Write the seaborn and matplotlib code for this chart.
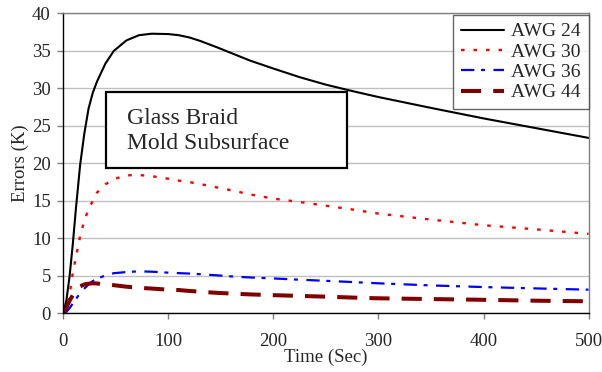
import matplotlib
matplotlib.use("Agg")
import matplotlib.pyplot as plt
from matplotlib.patches import Rectangle
import seaborn as sns
import pandas as pd

# Sample times (s)
time_s = [0, 3, 6, 9, 12, 16, 20, 24, 28, 32, 40, 48, 60, 72, 84, 100,
          110, 120, 130, 146, 162, 178, 200, 225, 250, 275, 300, 350, 400, 450, 500]

# Temperature errors (K) per thermocouple wire gauge
awg24 = [0, 1.8, 5.0, 9.2, 14.0, 19.8, 24.0, 27.3, 29.4, 30.9, 33.3, 35.0, 36.4,
         37.1, 37.3, 37.25, 37.1, 36.8, 36.35, 35.5, 34.6, 33.7, 32.65, 31.5,
         30.5, 29.65, 28.85, 27.4, 26.0, 24.7, 23.4]
awg30 = [0, 1.0, 2.5, 5.4, 7.5, 10.3, 12.4, 13.9, 15.0, 16.1, 17.2, 17.9, 18.4,
         18.45, 18.3, 17.95, 17.7, 17.5, 17.25, 16.8, 16.35, 15.85, 15.3, 14.85,
         14.35, 13.85, 13.3, 12.5, 11.75, 11.2, 10.6]
awg36 = [0, 0.2, 0.7, 1.3, 1.9, 2.7, 3.3, 3.85, 4.3, 4.6, 5.05, 5.35, 5.5,
         5.6, 5.55, 5.42, 5.36, 5.3, 5.22, 5.07, 4.9, 4.78, 4.65, 4.48,
         4.33, 4.17, 4.0, 3.72, 3.5, 3.32, 3.15]
awg44 = [0, 0.8, 1.7, 2.4, 3.0, 3.6, 3.85, 3.95, 4.0, 3.98, 3.85, 3.75, 3.55,
         3.4, 3.3, 3.15, 3.1, 2.98, 2.88, 2.73, 2.62, 2.52, 2.42, 2.32,
         2.22, 2.1, 2.0, 1.9, 1.8, 1.68, 1.6]

series_names = ["AWG 24", "AWG 30", "AWG 36", "AWG 44"]
x_ticks = [0, 100, 200, 300, 400, 500]
y_ticks = [0, 5, 10, 15, 20, 25, 30, 35, 40]

df = pd.DataFrame({
    "Time": time_s * 4,
    "Error": awg24 + awg30 + awg36 + awg44,
    "Gauge": [n for n in series_names for _ in time_s],
})

styles = {
    "AWG 24": dict(color="black", lw=1.5, ls="-"),
    "AWG 30": dict(color="#ff0000", lw=1.7, ls=(0, (1.5, 3.8))),
    "AWG 36": dict(color="#0000ff", lw=1.6, ls=(0, (6.0, 3.0, 1.8, 3.8))),
    "AWG 44": dict(color="#800000", lw=2.9, ls=(0, (5.0, 3.0))),
}

sns.set_style("white")
plt.rcParams["font.family"] = ["Liberation Serif", "DejaVu Serif"]

fig = plt.figure(figsize=(6.02, 3.72), dpi=100)
ax = fig.add_axes([0.1052, 0.1578, 0.8725, 0.806])

for name in series_names:
    st = styles[name]
    sub = df[df["Gauge"] == name]
    sns.lineplot(data=sub, x="Time", y="Error", ax=ax, color=st["color"],
                 linewidth=st["lw"], linestyle=st["ls"], label=name)

ax.set_xlim(0, 500)
ax.set_ylim(0, 40)
ax.set_xticks(x_ticks)
ax.set_yticks(y_ticks)
ax.yaxis.grid(True, color="#c0c0c0", linewidth=1.0)
ax.xaxis.grid(False)
ax.set_axisbelow(True)

for side in ("left", "bottom"):
    ax.spines[side].set_color("black")
    ax.spines[side].set_linewidth(1.0)
for side in ("top", "right"):
    ax.spines[side].set_color("#808080")
    ax.spines[side].set_linewidth(1.0)

ax.tick_params(axis="x", direction="out", length=4, width=1, color="#808080",
               labelsize=13.5, pad=10.5, bottom=True)
ax.tick_params(axis="y", direction="out", length=4, width=1, color="#808080",
               labelsize=13.5, pad=5, left=True)

ax.set_xlabel("Time (Sec)", fontsize=13.5, labelpad=-1)
ax.set_ylabel("Errors (K)", fontsize=13.5, labelpad=2)

leg = ax.legend(loc="upper right", bbox_to_anchor=(1.0, 0.995), borderaxespad=0,
                fontsize=14, frameon=True, fancybox=False, handlelength=2.25,
                handletextpad=0.35, labelspacing=0.14, borderpad=0.4)
leg.get_frame().set_edgecolor("#404040")
leg.get_frame().set_linewidth(1.0)

# Annotation box describing the configuration
ax.add_patch(Rectangle((0.0813, 0.4847), 0.4587, 0.2533, transform=ax.transAxes,
                       facecolor="white", edgecolor="black", linewidth=1.6, zorder=5))
ax.text(0.121, 0.608, "Glass Braid\nMold Subsurface", transform=ax.transAxes,
        fontsize=17, va="center", ha="left", linespacing=1.2, zorder=6)

fig.savefig("out.png", dpi=100)
